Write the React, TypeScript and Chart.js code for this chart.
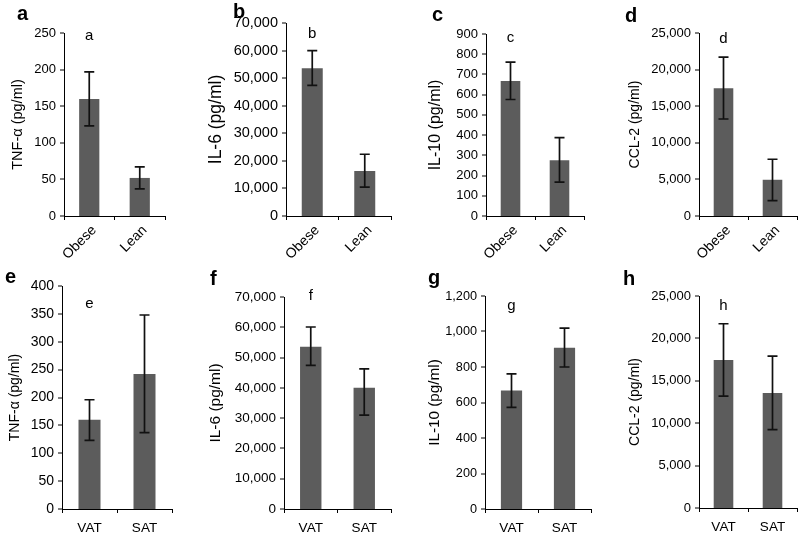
import React, { useEffect, useRef } from 'react';
import { Chart, registerables } from 'chart.js';

Chart.register(...registerables);

// ---------- data ----------
const topCategories = ['Obese', 'Lean'];
const bottomCategories = ['VAT', 'SAT'];

const panelLetters = ['a', 'b', 'c', 'd', 'e', 'f', 'g', 'h'];
const yTitles = ['TNF-α (pg/ml)', 'IL-6 (pg/ml)', 'IL-10 (pg/ml)', 'CCL-2 (pg/ml)', 'TNF-α (pg/ml)', 'IL-6 (pg/ml)', 'IL-10 (pg/ml)', 'CCL-2 (pg/ml)'];
const yMax = [250, 70000, 900, 25000, 400, 70000, 1200, 25000];
const yStep = [50, 10000, 100, 5000, 50, 10000, 200, 5000];

const tnfObeseLean = [160, 52];
const tnfObeseLeanLow = [123, 37];
const tnfObeseLeanHigh = [197, 67];

const il6ObeseLean = [53600, 16300];
const il6ObeseLeanLow = [47400, 10500];
const il6ObeseLeanHigh = [60000, 22400];

const il10ObeseLean = [667, 276];
const il10ObeseLeanLow = [576, 168];
const il10ObeseLeanHigh = [761, 388];

const ccl2ObeseLean = [17450, 4950];
const ccl2ObeseLeanLow = [13250, 2100];
const ccl2ObeseLeanHigh = [21700, 7750];

const tnfVatSat = [160, 242];
const tnfVatSatLow = [123, 137];
const tnfVatSatHigh = [196, 348];

const il6VatSat = [53600, 40000];
const il6VatSatLow = [47400, 31000];
const il6VatSatHigh = [60100, 46300];

const il10VatSat = [667, 908];
const il10VatSatLow = [573, 800];
const il10VatSatHigh = [761, 1019];

const ccl2VatSat = [17450, 13550];
const ccl2VatSatLow = [13200, 9250];
const ccl2VatSatHigh = [21730, 17920];

const panelValues = [tnfObeseLean, il6ObeseLean, il10ObeseLean, ccl2ObeseLean, tnfVatSat, il6VatSat, il10VatSat, ccl2VatSat];
const panelLow = [tnfObeseLeanLow, il6ObeseLeanLow, il10ObeseLeanLow, ccl2ObeseLeanLow, tnfVatSatLow, il6VatSatLow, il10VatSatLow, ccl2VatSatLow];
const panelHigh = [tnfObeseLeanHigh, il6ObeseLeanHigh, il10ObeseLeanHigh, ccl2ObeseLeanHigh, tnfVatSatHigh, il6VatSatHigh, il10VatSatHigh, ccl2VatSatHigh];

// ---------- layout / style ----------
const FONT = '"Liberation Sans", Arial, Helvetica, sans-serif';
const BAR_COLOR = '#5c5c5c';

// canvas box (page coords) and plot area (page coords)
const layouts = [
  { cx: 0, cy: 0, w: 200, h: 268, L: 64, R: 165, T: 33, B: 216, titleX: 18, titleSize: 14.5, tickSize: 13, xSize: 14, rot: 45, letter: [17, 20], inner: 7 },
  { cx: 200, cy: 0, w: 200, h: 268, L: 286, R: 391, T: 23, B: 216, titleX: 16, titleSize: 17.5, tickSize: 14.5, xSize: 14, rot: 45, letter: [33, 18], inner: 15 },
  { cx: 400, cy: 0, w: 200, h: 268, L: 486, R: 584, T: 34, B: 216, titleX: 36, titleSize: 16, tickSize: 13, xSize: 14, rot: 45, letter: [32, 21], inner: 8 },
  { cx: 600, cy: 0, w: 200, h: 268, L: 699, R: 797, T: 33, B: 216, titleX: 35, titleSize: 14, tickSize: 13, xSize: 14, rot: 45, letter: [25, 22], inner: 10 },
  { cx: 0, cy: 268, w: 200, h: 270, L: 62, R: 172, T: 286, B: 509, titleX: 15, titleSize: 14, tickSize: 14, xSize: 13.5, rot: 0, letter: [5, 15], inner: 22 },
  { cx: 200, cy: 268, w: 200, h: 270, L: 284, R: 391, T: 297, B: 509, titleX: 16, titleSize: 15.5, tickSize: 13.5, xSize: 13.5, rot: 0, letter: [10, 17], inner: 3 },
  { cx: 400, cy: 268, w: 200, h: 270, L: 485, R: 591, T: 296, B: 509, titleX: 35, titleSize: 15.3, tickSize: 12.7, xSize: 13.5, rot: 0, letter: [28, 16], inner: 14 },
  { cx: 600, cy: 268, w: 200, h: 270, L: 699, R: 797, T: 296, B: 508, titleX: 35, titleSize: 14, tickSize: 13, xSize: 13.5, rot: 0, letter: [23, 17], inner: 14 },
];

const errorBarPlugin = {
  id: 'errorBars',
  afterDatasetsDraw(chart: any, _args: any, opts: any) {
    const { ctx, scales } = chart;
    const meta = chart.getDatasetMeta(0);
    const low: number[] = opts.low;
    const high: number[] = opts.high;
    ctx.save();
    ctx.strokeStyle = '#111';
    ctx.lineWidth = 1.7;
    meta.data.forEach((bar: any, i: number) => {
      const x = bar.x;
      const yl = scales.y.getPixelForValue(low[i]);
      const yh = scales.y.getPixelForValue(high[i]);
      ctx.beginPath();
      ctx.moveTo(x, yl);
      ctx.lineTo(x, yh);
      ctx.moveTo(x - 5, yl);
      ctx.lineTo(x + 5, yl);
      ctx.moveTo(x - 5, yh);
      ctx.lineTo(x + 5, yh);
      ctx.stroke();
    });
    ctx.restore();
  },
};

const lettersPlugin = {
  id: 'letters',
  afterDraw(chart: any, _args: any, opts: any) {
    const { ctx, chartArea } = chart;
    const meta = chart.getDatasetMeta(0);
    ctx.save();
    ctx.fillStyle = '#000';
    ctx.textBaseline = 'alphabetic';
    // panel letter (bold)
    ctx.textAlign = 'left';
    ctx.font = `bold 20px ${FONT}`;
    ctx.fillText(opts.letter, opts.letterPos[0], opts.letterPos[1]);
    // inner annotation over first bar
    ctx.textAlign = 'center';
    ctx.font = `15px ${FONT}`;
    ctx.fillText(opts.letter, meta.data[0].x, chartArea.top + opts.inner);
    ctx.restore();
  },
};

function Panel({ idx }: { idx: number }) {
  const ref = useRef<HTMLCanvasElement | null>(null);
  const lay = layouts[idx];
  useEffect(() => {
    if (!ref.current) return;
    const cats = idx < 4 ? topCategories : bottomCategories;
    const yWidth = lay.L - lay.cx;
    const xHeight = lay.cy + lay.h - lay.B;
    const padTop = lay.T - lay.cy;
    const padRight = lay.cx + lay.w - lay.R;
    const titleLH = lay.titleSize * 1.2;
    const chart = new Chart(ref.current, {
      type: 'bar',
      data: {
        labels: cats,
        datasets: [
          {
            data: panelValues[idx],
            backgroundColor: BAR_COLOR,
            borderColor: BAR_COLOR,
            borderWidth: 0,
            inflateAmount: 0,
            barPercentage: 0.4,
            categoryPercentage: 1,
          },
        ],
      },
      options: {
        animation: false,
        responsive: false,
        maintainAspectRatio: false,
        layout: { padding: { top: padTop, right: padRight, left: 0, bottom: 0 } },
        plugins: {
          legend: { display: false },
          tooltip: { enabled: false },
          errorBars: { low: panelLow[idx], high: panelHigh[idx] },
          letters: { letter: panelLetters[idx], letterPos: lay.letter, inner: lay.inner },
        } as any,
        scales: {
          x: {
            offset: true,
            grid: { display: true, drawOnChartArea: false, drawTicks: true, tickLength: 4, color: '#000', offset: true },
            border: { display: true, color: '#000', width: 1 },
            ticks: {
              color: '#000',
              font: { family: FONT, size: lay.xSize },
              minRotation: lay.rot,
              maxRotation: lay.rot,
              padding: lay.rot ? 2 : 7,
              labelOffset: lay.rot ? 5 : 0,
              autoSkip: false,
            },
            afterFit: (s: any) => {
              s.height = xHeight;
            },
          },
          y: {
            min: 0,
            max: yMax[idx],
            ticks: {
              stepSize: yStep[idx],
              color: '#000',
              font: { family: FONT, size: lay.tickSize },
              padding: 4,
              callback: (v: any) => Number(v).toLocaleString('en-US'),
            },
            grid: {
              display: true,
              drawOnChartArea: false,
              drawTicks: true,
              tickLength: 4,
              color: '#000',
              lineWidth: 0,
              tickWidth: 1,
              tickColor: '#000',
            },
            border: { display: true, color: '#000', width: 1 },
            title: {
              display: true,
              text: yTitles[idx],
              color: '#000',
              font: { family: FONT, size: lay.titleSize },
              padding: { top: lay.titleX - titleLH / 2, bottom: 0 },
            },
            afterFit: (s: any) => {
              s.width = yWidth;
            },
          },
        },
      } as any,
      plugins: [errorBarPlugin, lettersPlugin],
    });
    return () => chart.destroy();
  }, [idx]);
  return (
    <canvas
      ref={ref}
      width={lay.w}
      height={lay.h}
      style={{ position: 'absolute', left: lay.cx, top: lay.cy, width: lay.w, height: lay.h }}
    />
  );
}

export default function App() {
  useEffect(() => {
    document.body.style.margin = '0';
  }, []);
  return (
    <div style={{ position: 'absolute', left: 0, top: 0, width: 800, height: 538, background: '#fff' }}>
      {panelLetters.map((_, i) => (
        <Panel key={i} idx={i} />
      ))}
    </div>
  );
}
